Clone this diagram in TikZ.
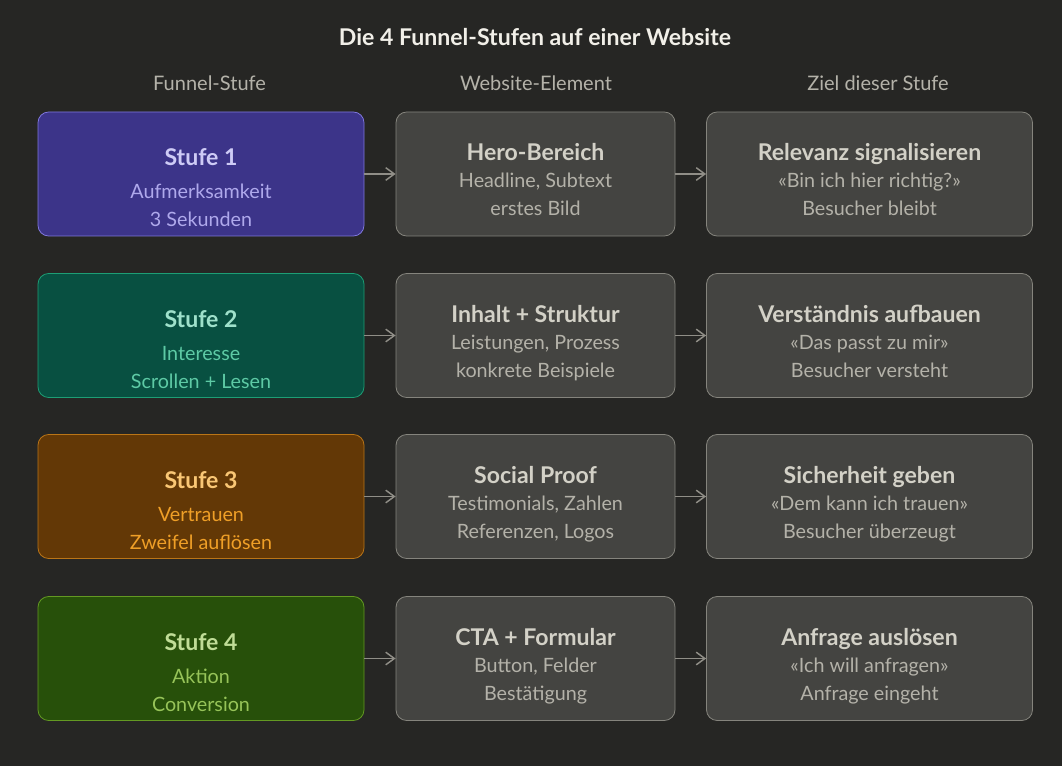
\documentclass[tikz,border=0pt]{standalone}
\usepackage{fontspec}
\setmainfont{Lato}
\usetikzlibrary{arrows.meta}

\definecolor{hintergrund}{HTML}{262624}
\definecolor{grauFill}{HTML}{444441}
\definecolor{grauLine}{HTML}{85847D}
\definecolor{pfeilGrau}{HTML}{908E87}
\definecolor{grauTitel}{HTML}{D3D1C7}
\definecolor{grauText}{HTML}{B4B2A9}
\definecolor{titelText}{HTML}{F1EFE8}
% Stufen-Farben
\definecolor{fill1}{HTML}{3C3489}\definecolor{line1}{HTML}{7F77DD}
\definecolor{titel1}{HTML}{CECBF6}\definecolor{text1}{HTML}{AFA9EC}
\definecolor{fill2}{HTML}{085041}\definecolor{line2}{HTML}{1D9E75}
\definecolor{titel2}{HTML}{9FE1CB}\definecolor{text2}{HTML}{5DCAA5}
\definecolor{fill3}{HTML}{633806}\definecolor{line3}{HTML}{BA7517}
\definecolor{titel3}{HTML}{FAC775}\definecolor{text3}{HTML}{EF9F27}
\definecolor{fill4}{HTML}{27500A}\definecolor{line4}{HTML}{639922}
\definecolor{titel4}{HTML}{C0DD97}\definecolor{text4}{HTML}{97C459}

\tikzset{
	box/.style={rounded corners=8pt, line width=0.6pt, minimum height=93pt, inner sep=0pt},
	breit/.style={minimum width=244.5pt},
	schmal/.style={minimum width=209.25pt},
	kopf/.style={anchor=base, grauText, font=\fontsize{15}{17}\selectfont},
	titel/.style={anchor=base, font=\fontsize{17.3}{20}\bfseries\selectfont},
	zeile/.style={anchor=base, font=\fontsize{14.8}{17}\selectfont},
	pfeil/.style={-{Straight Barb[length=6.5pt, width=9.5pt, line width=1.1pt]}, line width=1.1pt, pfeilGrau},
}

\begin{document}
\begin{tikzpicture}[x=0.75pt, y=-0.75pt]
	\fill[hintergrund] (0, 0) rectangle (1062, 766);
	\useasboundingbox (0, 0) rectangle (1062, 766);

	\node[anchor=base, titelText, font=\fontsize{17.3}{20}\bfseries\selectfont] (titel) at (535, 45.5) {Die 4 Funnel-Stufen auf einer Website};
	\node[kopf] (k1) at (209.5, 91) {Funnel-Stufe};
	\node[kopf] (k2) at (536, 91) {Website-Element};
	\node[kopf] (k3) at (878, 91) {Ziel dieser Stufe};

	\foreach \i/\y/\sa/\sb/\wt/\wa/\wb/\zt/\za/\zb in {
		1/174/Aufmerksamkeit/3 Sekunden/Hero-Bereich/{Headline, Subtext}/erstes Bild/Relevanz signalisieren/«Bin ich hier richtig?»/Besucher bleibt,
		2/335.5/Interesse/Scrollen + Lesen/Inhalt + Struktur/{Leistungen, Prozess}/konkrete Beispiele/Verständnis aufbauen/«Das passt zu mir»/Besucher versteht,
		3/496.5/Vertrauen/Zweifel auflösen/Social Proof/{Testimonials, Zahlen}/{Referenzen, Logos}/Sicherheit geben/«Dem kann ich trauen»/Besucher überzeugt,
		4/658.5/Aktion/Conversion/CTA + Formular/{Button, Felder}/Bestätigung/Anfrage auslösen/«Ich will anfragen»/Anfrage eingeht}
	{
		% Stufe
		\node[box, breit, draw=line\i, fill=fill\i] (s\i) at (201, \y) {};
		\node[titel, titel\i] at (201, \y-8) {Stufe \i};
		\node[zeile, text\i] at (201, \y+25) {\sa};
		\node[zeile, text\i] at (201, \y+53) {\sb};
		% Website-Element
		\node[box, schmal, draw=grauLine, fill=grauFill] (w\i) at (535.5, \y) {};
		\node[titel, grauTitel] at (535.5, \y-13.5) {\wt};
		\node[zeile, grauText] at (535.5, \y+14) {\wa};
		\node[zeile, grauText] at (535.5, \y+41.5) {\wb};
		% Ziel
		\node[box, breit, draw=grauLine, fill=grauFill] (z\i) at (869.5, \y) {};
		\node[titel, grauTitel] at (869.5, \y-13.5) {\zt};
		\node[zeile, grauText] at (869.5, \y+14) {\za};
		\node[zeile, grauText] at (869.5, \y+41.5) {\zb};

		\draw[pfeil] (s\i) -- (w\i);
		\draw[pfeil] (w\i) -- (z\i);
	}
\end{tikzpicture}
\end{document}
